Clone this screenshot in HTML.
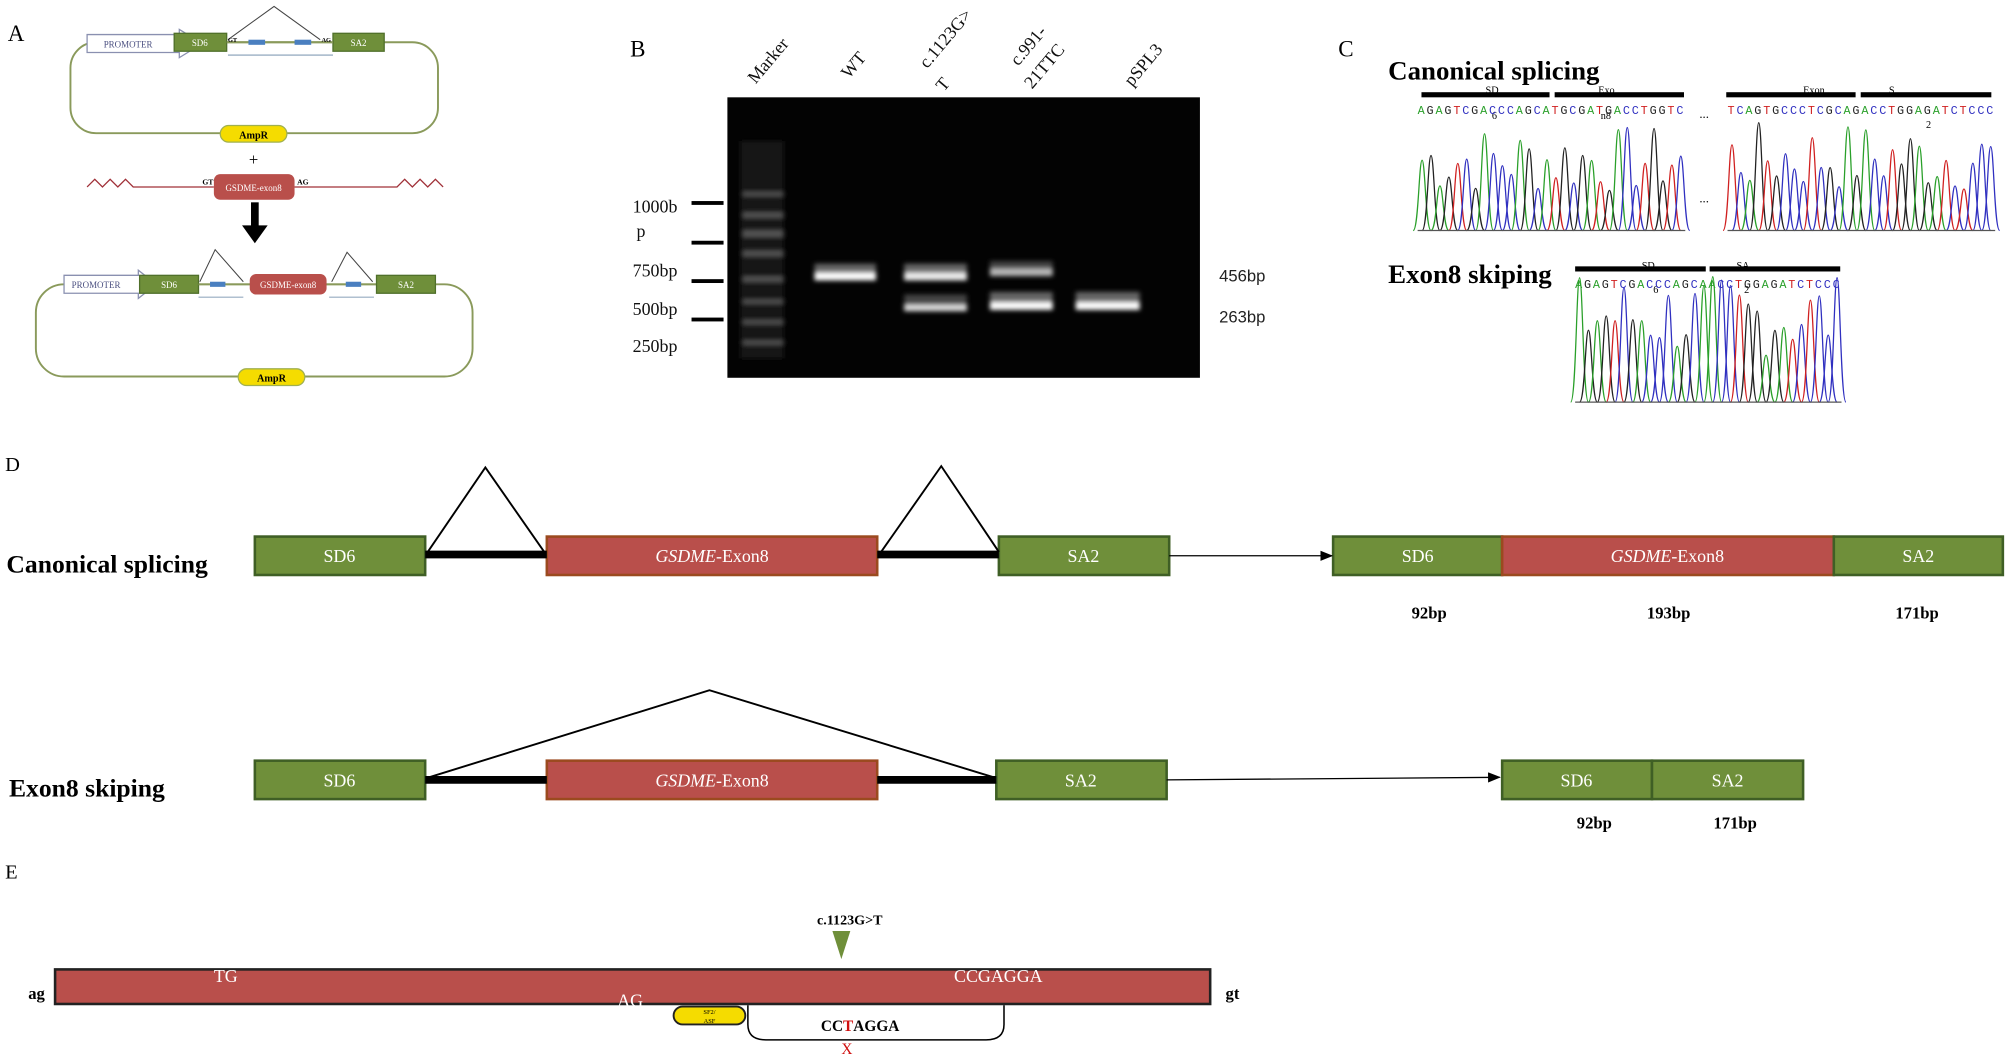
<!DOCTYPE html>
<html><head><meta charset="utf-8"><style>html,body{margin:0;padding:0;background:#fff}svg{display:block}</style></head><body>
<svg id="s" width="2008" height="1057" viewBox="0 0 1568 825.4" xmlns="http://www.w3.org/2000/svg" font-family="Liberation Serif, serif">
<defs><marker id="ar" markerWidth="10" markerHeight="8" refX="9" refY="4" orient="auto" markerUnits="userSpaceOnUse"><path d="M0,0L10,4L0,8z" fill="#000"/></marker></defs>
<!-- Panel A -->
<text x="6" y="32" font-size="18">A</text>
<rect x="55" y="33" width="287" height="71" rx="20" fill="none" stroke="#8a9a5b" stroke-width="1.5"/>
<polygon points="76,27 148,27 148,23 166,34 148,45 148,41 76,41" fill="#fff" stroke="#8a90b0" transform="translate(-8,0)"/>
<text x="100" y="37" font-size="7" fill="#4a4f80" text-anchor="middle">PROMOTER</text>
<rect x="136" y="26" width="41" height="14" fill="#6f8f3a" stroke="#4f6f2a"/><text x="156" y="36" font-size="7" fill="#fff" text-anchor="middle">SD6</text>
<rect x="260" y="26" width="40" height="14" fill="#6f8f3a" stroke="#4f6f2a"/><text x="280" y="36" font-size="7" fill="#fff" text-anchor="middle">SA2</text>
<line x1="177" y1="33" x2="260" y2="33" stroke="#8a9a5b" stroke-width="1.5"/>
<polyline points="178,31 214,5 250,31" fill="none" stroke="#444" stroke-width="0.8"/>
<rect x="194" y="31" width="13" height="4" fill="#4a7fc0"/><rect x="230" y="31" width="13" height="4" fill="#4a7fc0"/>
<text x="178" y="33" font-size="5" font-weight="bold">GT</text><text x="251" y="33" font-size="5" font-weight="bold">AG</text>
<line x1="178" y1="43" x2="260" y2="43" stroke="#6080a0" stroke-width="0.6"/>
<rect x="172" y="98" width="52" height="13" rx="6.5" fill="#f5dc00" stroke="#a0b050"/><text x="198" y="108" font-size="8" font-weight="bold" text-anchor="middle">AmpR</text>
<text x="198" y="129" font-size="13" text-anchor="middle">+</text>
<polyline points="68,146 74,140 80,146 86,140 92,146 98,140 104,146 167,146" fill="none" stroke="#a03038" stroke-width="1"/>
<polyline points="230,146 310,146 316,140 322,146 328,140 334,146 340,140 346,146" fill="none" stroke="#a03038" stroke-width="1"/>
<rect x="167" y="136" width="63" height="20" rx="5" fill="#b94f4b"/><text x="198" y="149" font-size="7" fill="#fff" text-anchor="middle">GSDME-exon8</text>
<text x="158" y="144" font-size="6" font-weight="bold">GT</text><text x="232" y="144" font-size="6" font-weight="bold">AG</text>
<rect x="196" y="158" width="6" height="20" fill="#000"/><polygon points="189,176 209,176 199,190" fill="#000"/>
<rect x="28" y="222" width="341" height="72" rx="22" fill="none" stroke="#8a9a5b" stroke-width="1.5"/>
<polygon points="64,215 122,215 122,211 136,222 122,233 122,229 64,229" fill="#fff" stroke="#8a90b0" transform="translate(-14,0)"/>
<text x="75" y="225" font-size="7" fill="#4a4f80" text-anchor="middle">PROMOTER</text>
<rect x="109" y="215" width="46" height="14" fill="#6f8f3a" stroke="#4f6f2a"/><text x="132" y="225" font-size="7" fill="#fff" text-anchor="middle">SD6</text>
<line x1="155" y1="222" x2="295" y2="222" stroke="#8a9a5b" stroke-width="1.5"/>
<rect x="195" y="214" width="60" height="16" rx="5" fill="#b94f4b"/><text x="225" y="225" font-size="7" fill="#fff" text-anchor="middle">GSDME-exon8</text>
<rect x="294" y="215" width="46" height="14" fill="#6f8f3a" stroke="#4f6f2a"/><text x="317" y="225" font-size="7" fill="#fff" text-anchor="middle">SA2</text>
<polyline points="156,220 168,195 190,220" fill="none" stroke="#444" stroke-width="0.8"/>
<polyline points="259,220 271,197 291,220" fill="none" stroke="#444" stroke-width="0.8"/>
<rect x="164" y="220" width="12" height="4" fill="#4a7fc0"/><rect x="270" y="220" width="12" height="4" fill="#4a7fc0"/>
<line x1="155" y1="232" x2="190" y2="232" stroke="#6080a0" stroke-width="0.6"/><line x1="257" y1="232" x2="292" y2="232" stroke="#6080a0" stroke-width="0.6"/>
<rect x="186" y="288" width="52" height="13" rx="6.5" fill="#f5dc00" stroke="#a0b050"/><text x="212" y="298" font-size="8" font-weight="bold" text-anchor="middle">AmpR</text>
<!-- Panel B -->
<text x="492" y="44" font-size="18">B</text>
<rect x="568" y="76" width="369" height="219" fill="#030303"/>
<g font-size="14" fill="#111">
<text transform="translate(590,66) rotate(-50)">Marker</text>
<text transform="translate(663,62) rotate(-50)">WT</text>
<text transform="translate(724,54) rotate(-50)">c.1123G&gt;</text><text transform="translate(737,72) rotate(-50)">T</text>
<text transform="translate(795,52) rotate(-50)">c.991-</text><text transform="translate(806,70) rotate(-50)">21TTC</text>
<text transform="translate(884,68) rotate(-50)">pSPL3</text>
<text x="494" y="166">1000b</text><text x="497" y="185">p</text><text x="494" y="216">750bp</text><text x="494" y="246">500bp</text><text x="494" y="275">250bp</text>
</g>
<g font-family="Liberation Sans, sans-serif" font-size="13" fill="#222"><text x="952" y="220">456bp</text><text x="952" y="252">263bp</text></g>
<g fill="#000"><rect x="540" y="157" width="25" height="3"/><rect x="540" y="188" width="25" height="3"/><rect x="540" y="218" width="25" height="3"/><rect x="540" y="248" width="25" height="3"/></g>
<defs><filter id="bl"><feGaussianBlur stdDeviation="1.8"/></filter></defs>
<g filter="url(#bl)">
<rect x="578" y="110" width="34" height="170" fill="#141414"/>
<g fill="#555"><rect x="580" y="150" width="32" height="3"/><rect x="580" y="166" width="32" height="4"/><rect x="580" y="180" width="32" height="5"/><rect x="580" y="196" width="32" height="4"/><rect x="580" y="216" width="32" height="4"/><rect x="580" y="234" width="32" height="3"/><rect x="580" y="250" width="32" height="3"/><rect x="580" y="266" width="32" height="3"/></g>
<rect x="636" y="206" width="48" height="12" fill="#666"/><rect x="636" y="213" width="48" height="6" fill="#fff"/>
<rect x="706" y="206" width="49" height="12" fill="#666"/><rect x="706" y="213" width="49" height="6" fill="#eee"/>
<rect x="706" y="230" width="49" height="12" fill="#444"/><rect x="706" y="238" width="49" height="5" fill="#ddd"/>
<rect x="773" y="204" width="49" height="12" fill="#444"/><rect x="773" y="210" width="49" height="5" fill="#bbb"/>
<rect x="773" y="228" width="49" height="14" fill="#666"/><rect x="773" y="236" width="49" height="6" fill="#fff"/>
<rect x="840" y="228" width="50" height="14" fill="#666"/><rect x="840" y="236" width="50" height="6" fill="#fff"/>
</g>
<!-- Panel C -->
<text x="1045" y="44" font-size="18">C</text>
<text x="1084" y="62" font-size="21" font-weight="bold">Canonical splicing</text>
<text x="1084" y="221" font-size="21" font-weight="bold">Exon8 skiping</text>
<g fill="#000"><rect x="1110" y="72" width="100" height="4"/><rect x="1214" y="72" width="101" height="4"/><rect x="1348" y="72" width="101" height="4"/><rect x="1453" y="72" width="102" height="4"/><rect x="1230" y="208" width="102" height="4"/><rect x="1335" y="208" width="102" height="4"/></g>
<g font-size="8"><text x="1160" y="73">SD</text><text x="1248" y="73">Exo</text><text x="1408" y="73">Exon</text><text x="1475" y="73">S</text><text x="1282" y="210">SD</text><text x="1356" y="210">SA</text><text x="1165" y="93">6</text><text x="1250" y="93">n8</text><text x="1504" y="100">2</text><text x="1291" y="229">6</text><text x="1362" y="229">2</text></g>
<g font-family="Liberation Mono, monospace" font-size="9.2" id="seqs"></g>
<g id="chroms"></g>
<text x="1327" y="92" font-size="10">...</text><text x="1327" y="158" font-size="10">...</text>
<!-- Panel D -->
<text x="4" y="368" font-size="16">D</text>
<text x="5" y="447" font-size="20" font-weight="bold">Canonical splicing</text>
<text x="7" y="622" font-size="20" font-weight="bold">Exon8 skiping</text>
<g stroke-width="2">
<rect x="199" y="419" width="133" height="30" fill="#6f8f3a" stroke="#3f5f25"/>
<rect x="427" y="419" width="258" height="30" fill="#b94f4b" stroke="#9b4a1f"/>
<rect x="780" y="419" width="133" height="30" fill="#6f8f3a" stroke="#3f5f25"/>
<rect x="1041" y="419" width="132" height="30" fill="#6f8f3a" stroke="#3f5f25"/>
<rect x="1173" y="419" width="259" height="30" fill="#b94f4b" stroke="#9b4a1f"/>
<rect x="1432" y="419" width="132" height="30" fill="#6f8f3a" stroke="#3f5f25"/>
<rect x="199" y="594" width="133" height="30" fill="#6f8f3a" stroke="#3f5f25"/>
<rect x="427" y="594" width="258" height="30" fill="#b94f4b" stroke="#9b4a1f"/>
<rect x="778" y="594" width="133" height="30" fill="#6f8f3a" stroke="#3f5f25"/>
<rect x="1173" y="594" width="117" height="30" fill="#6f8f3a" stroke="#3f5f25"/>
<rect x="1290" y="594" width="118" height="30" fill="#6f8f3a" stroke="#3f5f25"/>
</g>
<g stroke="#000" stroke-width="6"><line x1="332" y1="433" x2="427" y2="433"/><line x1="685" y1="433" x2="780" y2="433"/><line x1="332" y1="609" x2="427" y2="609"/><line x1="685" y1="609" x2="778" y2="609"/></g>
<g fill="none" stroke="#000" stroke-width="1.5"><polyline points="334,431 379,365 425,431"/><polyline points="688,431 735,364 780,431"/><polyline points="335,607 554,539 776,607"/>
<line x1="913" y1="434" x2="1040" y2="434" marker-end="url(#ar)" stroke-width="1"/><line x1="911" y1="609" x2="1171" y2="607" marker-end="url(#ar)" stroke-width="1"/></g>
<g font-size="14" fill="#fff" text-anchor="middle"><text x="265" y="439">SD6</text><text x="556" y="439"><tspan font-style="italic">GSDME</tspan>-Exon8</text><text x="846" y="439">SA2</text><text x="1107" y="439">SD6</text><text x="1302" y="439"><tspan font-style="italic">GSDME</tspan>-Exon8</text><text x="1498" y="439">SA2</text>
<text x="265" y="614">SD6</text><text x="556" y="614"><tspan font-style="italic">GSDME</tspan>-Exon8</text><text x="844" y="614">SA2</text><text x="1231" y="614">SD6</text><text x="1349" y="614">SA2</text></g>
<g font-size="13" font-weight="bold" text-anchor="middle"><text x="1116" y="483">92bp</text><text x="1303" y="483">193bp</text><text x="1497" y="483">171bp</text><text x="1245" y="647">92bp</text><text x="1355" y="647">171bp</text></g>
<!-- Panel E -->
<text x="4" y="686" font-size="16">E</text>
<rect x="43" y="757" width="902" height="27" fill="#b94f4b" stroke="#222" stroke-width="2"/>
<g font-size="13" font-weight="bold"><text x="22" y="780">ag</text><text x="957" y="780">gt</text><text x="638" y="722" font-size="11">c.1123G&gt;T</text></g>
<g fill="#fff" font-size="14"><text x="167" y="767">TG</text><text x="745" y="767">CCGAGGA</text><text x="482" y="786">AG</text></g>
<polygon points="650,727 664,727 657,749" fill="#6f8f3a"/>
<rect x="526" y="786" width="56" height="14" rx="7" fill="#f5dc00" stroke="#222" stroke-width="1.5"/>
<text x="554" y="792" font-size="5" text-anchor="middle">SF2/</text><text x="554" y="799" font-size="5" text-anchor="middle">ASF</text>
<path d="M584,785 V800 Q584,812 598,812 H770 Q784,812 784,800 V785" fill="none" stroke="#000" stroke-width="1.2"/>
<text x="641" y="805" font-size="12" font-weight="bold">CC<tspan fill="#d01010">T</tspan>AGGA</text>
<text x="657" y="823" font-size="12" fill="#d01010">X</text>
</svg>
<script>
(function(){
var ns="http://www.w3.org/2000/svg";
var seqG=document.getElementById("seqs"),ch=document.getElementById("chroms");
var col={A:"#2aa02a",C:"#3030c0",G:"#222",T:"#d02020"};
function seq(s,x0,x1,y){var n=s.length,dx=(x1-x0)/n;for(var i=0;i<n;i++){var t=document.createElementNS(ns,"text");t.setAttribute("x",x0+i*dx);t.setAttribute("y",y);t.setAttribute("fill",col[s[i]]);t.textContent=s[i];seqG.appendChild(t);}}
var seed=7;function r(){seed=(seed*9301+49297)%233280;return seed/233280;}
function chrom(s,x0,x1,yb,h){var n=s.length,dx=(x1-x0)/n;
 for(var i=0;i<n;i++){var cx=x0+dx*(i+0.5),ph=h*(0.35+0.65*r());var p=document.createElementNS(ns,"path");
 p.setAttribute("d","M"+(cx-dx*1.0)+","+yb+" C"+(cx-dx*0.4)+","+yb+" "+(cx-dx*0.35)+","+(yb-ph)+" "+cx+","+(yb-ph)+" C"+(cx+dx*0.35)+","+(yb-ph)+" "+(cx+dx*0.4)+","+yb+" "+(cx+dx*1.0)+","+yb);
 p.setAttribute("fill","none");p.setAttribute("stroke",col[s[i]]);p.setAttribute("stroke-width","1");ch.appendChild(p);}
 var l=document.createElementNS(ns,"line");l.setAttribute("x1",x0);l.setAttribute("x2",x1);l.setAttribute("y1",yb);l.setAttribute("y2",yb);l.setAttribute("stroke","#555");ch.appendChild(l);}
var s1="AGAGTCGACCCAGCATGCGATGACCTGGTC",s2="TCAGTGCCCTCGCAGACCTGGAGATCTCCC",s3="AGAGTCGACCCAGCAACCTGGAGATCTCCC";
seq(s1,1107,1316,89);seq(s2,1349,1558,89);seq(s3,1230,1438,225);
chrom(s1,1107,1316,180,82);chrom(s2,1349,1558,180,85);chrom(s3,1230,1438,314,100);
})();
</script>
</body></html>
